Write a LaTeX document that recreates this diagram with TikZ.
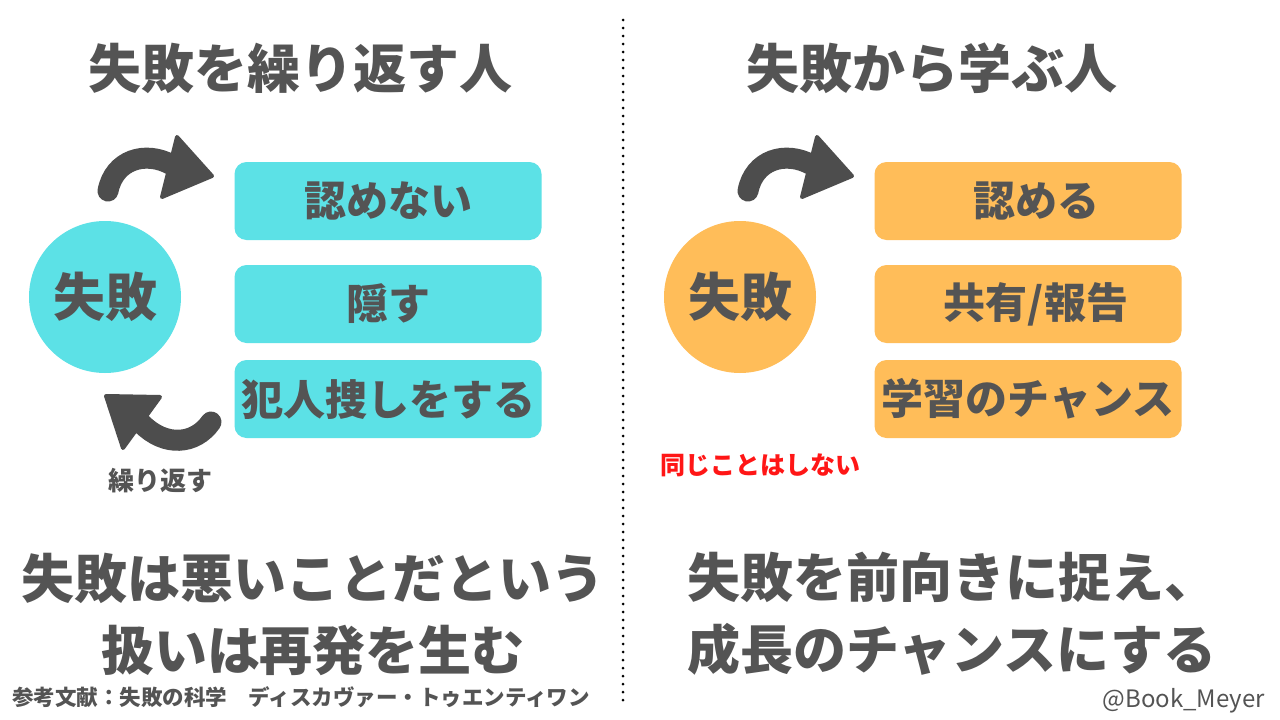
\documentclass[tikz,border=0pt]{standalone}
\usepackage{fontspec}
\setmainfont{Noto Sans CJK JP}
\usetikzlibrary{positioning}
\definecolor{cyanbox}{HTML}{5CE1E6}
\definecolor{orangebox}{HTML}{FFBD59}
\definecolor{txtgray}{HTML}{545454}
\definecolor{arrowgray}{HTML}{4D4D4D}
\definecolor{redtxt}{HTML}{FF1616}
\begin{document}
\begin{tikzpicture}[x=1pt,y=-1pt,
  box node/.style={rounded corners=12pt,minimum width=307pt,minimum height=78pt,inner sep=0pt,text=txtgray,font=\fontsize{42}{42}\selectfont\bfseries},
  main node/.style={circle,minimum size=152pt,inner sep=0pt,text=txtgray,font=\fontsize{52}{52}\selectfont\bfseries},
  big text/.style={text=txtgray,font=\fontsize{53}{72}\selectfont\bfseries,inner sep=0pt},
  small text/.style={text=txtgray,font=\fontsize{26}{26}\selectfont\bfseries,inner sep=0pt},
  arrow body/.style={draw=arrowgray,line width=21pt,line cap=round},
  arrow head/.style={fill=arrowgray,draw=arrowgray,line width=4pt,line join=round}]

  \useasboundingbox[fill=white] (0,0) rectangle (1280,720);

  % divider
  \draw[line width=3pt,dash pattern=on 0pt off 8pt,line cap=round] (623,20) -- (623,705);

  % titles
  \node[big text] (t1) at (300,68) {失敗を繰り返す人};
  \node[big text] (t2) at (932,68) {失敗から学ぶ人};

  % left side
  \node[main node,fill=cyanbox] (1) at (105,297) {失敗};
  \node[box node,fill=cyanbox] (2) at (388,201) {認めない};
  \node[box node,fill=cyanbox] (3) at (388,304) {隠す};
  \node[box node,fill=cyanbox] (4) at (388,399) {犯人捜しをする};

  % right side
  \node[main node,fill=orangebox] (5) at (740,297) {失敗};
  \node[box node,fill=orangebox] (6) at (1028,201) {\hspace*{16pt}認める};
  \node[box node,fill=orangebox] (7) at (1028,304) {\hspace*{16pt}共有/報告};
  \node[box node,fill=orangebox] (8) at (1028,399) {学習のチャンス};

  % arrows
  \foreach \dx in {0,640} {
    \draw[arrow body] (108+\dx,191) .. controls (114+\dx,160) and (145+\dx,150) .. (172+\dx,165);
    \filldraw[arrow head] (177+\dx,137) -- (212+\dx,176) -- (162+\dx,197) -- cycle;
  }
  \draw[arrow body] (142,424) .. controls (165,447) and (195,445) .. (211,422);
  \filldraw[arrow head] (106,396) -- (160,397) -- (123,448) -- cycle;

  \node[small text] (r) at (160,481) {繰り返す};
  \node[small text,text=redtxt,font=\fontsize{25}{25}\selectfont\bfseries] (s) at (760,465) {同じことはしない};

  % bottom lines
  \node[big text,align=center] (b1) at (313,614) {失敗は悪いことだという\\扱いは再発を生む};
  \node[big text,align=left,anchor=west] (b2) at (687,614) {失敗を前向きに捉え、\\成長のチャンスにする};

  \node[small text,font=\fontsize{21.5}{21.5}\selectfont\bfseries,anchor=west] (ref) at (12,697) {参考文献：失敗の科学　ディスカヴァー・トゥエンティワン};
  \node[small text,font=\fontsize{24}{24}\selectfont,anchor=east] (name) at (1265,701) {@Book\_Meyer};
\end{tikzpicture}
\end{document}
